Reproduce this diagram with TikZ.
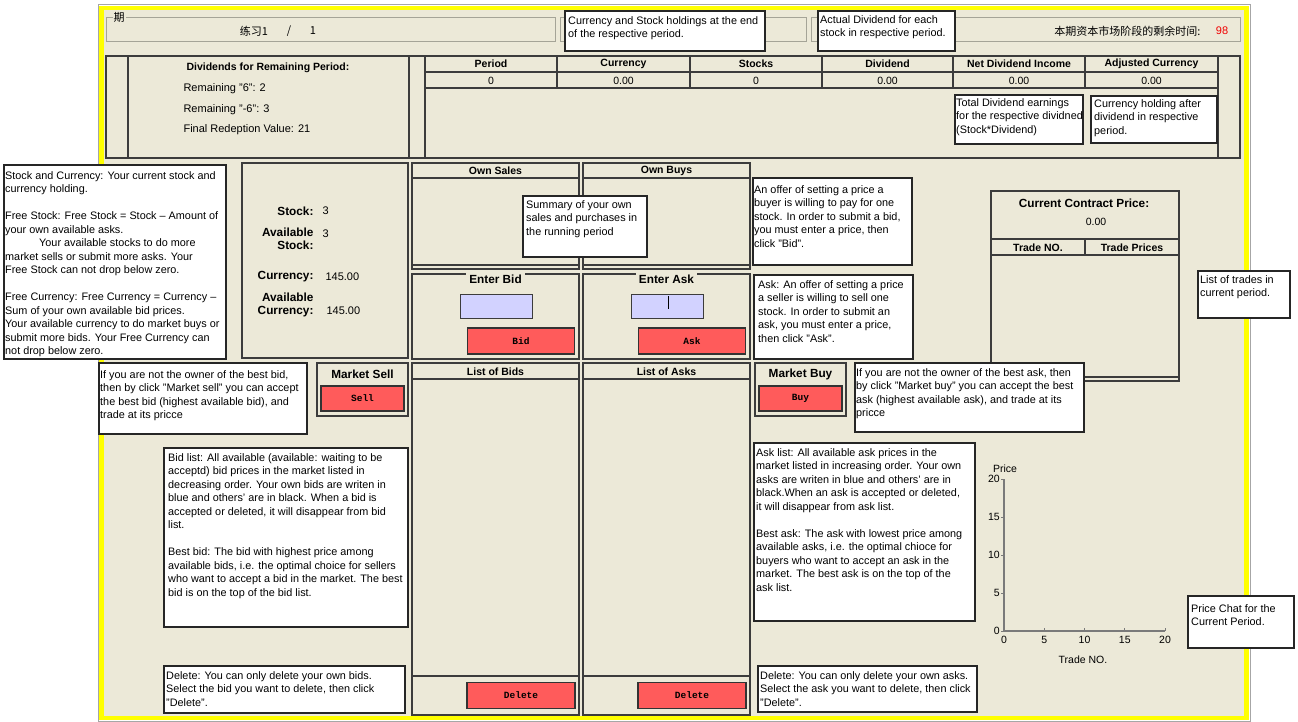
\documentclass[tikz,border=0pt]{standalone}
\usepackage{fontspec}
\setmainfont{Liberation Sans}
\setmonofont{Liberation Mono}
\newfontfamily\cjk{Noto Sans CJK SC}
\usepackage{xcolor}
\usepackage{tikz}
\usetikzlibrary{positioning}

\definecolor{winbg}{HTML}{ECE9D8}
\definecolor{edge}{HTML}{3C3C3C}
\definecolor{groove}{HTML}{A5A497}
\definecolor{btnred}{HTML}{FF5B5B}
\definecolor{fieldblue}{HTML}{D2D2FF}
\definecolor{frameyel}{HTML}{FFFF00}
\definecolor{timered}{HTML}{F00000}
\definecolor{axisgray}{HTML}{7A7A7A}

\begin{document}
\begin{tikzpicture}[x=1pt, y=-1pt,
  panel/.style={draw=edge, line width=1.2pt},
  groupbox/.style={draw=groove, line width=1pt},
  notebox/.style={draw=black!85, fill=white, line width=1.2pt},
  notetext/.style={anchor=north west, align=left, inner sep=0pt,
    font=\fontsize{10.85}{13.5}\selectfont},
  hdr/.style={font=\bfseries\fontsize{10.5}{12}\selectfont},
  biglbl/.style={font=\bfseries\fontsize{11.8}{13}\selectfont},
  txt/.style={font=\fontsize{11}{13}\selectfont},
  cjktxt/.style={font=\fontsize{11}{13}\cjk},
  btn/.style={draw=black!80, fill=btnred, line width=1.2pt, inner sep=0pt,
    font=\ttfamily\bfseries\fontsize{9.5}{10}\selectfont},
  field/.style={draw=edge, fill=fieldblue, line width=1pt}
]
  \useasboundingbox (0,0) rectangle (1298,721);
  \fill[white] (0,0) rectangle (1298,721);

  %% window frame
  \fill[winbg] (100,7) rectangle (1247,718);
  \draw[gray!70, line width=1pt] (98.5,4.5) rectangle (1250.5,721);
  \draw[frameyel, line width=4.5pt] (101.5,8.2) rectangle (1246.3,717.8);

  %% top group boxes
  \draw[groupbox] (106,17) rectangle (555,41);
  \node[cjktxt, fill=winbg, inner sep=1pt] (period) at (119,17) {期};
  \node[cjktxt] (round) at (254,31) {练习1};
  \node[cjktxt] (slash) at (289,31) {/};
  \node[cjktxt] (rounds) at (313,31) {1};
  \draw[groupbox] (560,17) rectangle (806,41);
  \draw[groupbox] (811,17) rectangle (1240,41);
  \node[cjktxt, anchor=east] (timelbl) at (1204,31) {本期资本市场阶段的剩余时间:};
  \node[txt, text=timered] (timeval) at (1222,31) {98};

  %% dividend table
  \draw[panel] (106,56) rectangle (1240,158);
  \foreach \x in {128,409,425,1218}
    \draw[panel] (\x,56) -- (\x,158);
  \draw[panel] (425,72) -- (1218,72);
  \draw[panel] (425,88) -- (1218,88);
  \foreach \x in {557,690,822,953,1085}
    \draw[panel] (\x,56) -- (\x,88);
  \foreach \cx/\head/\val [count=\i] in {491/Period/0, 623.5/Currency/0.00,
      756/Stocks/0, 887.5/Dividend/0.00, 1019/Net Dividend Income/0.00,
      1151.5/Adjusted Currency/0.00}{
    \node[hdr] (head\i) at (\cx,64) {\head};
    \node[txt, font=\fontsize{10.5}{12}\selectfont] (val\i) at (\cx,80.5) {\val};
  }
  \node[hdr, anchor=west] (divtitle) at (183,68) {Dividends for Remaining Period:};
  \node[txt, anchor=west] (remsix) at (180,89) {Remaining "6": 2};
  \node[txt, anchor=west] (remminus) at (180,110) {Remaining "-6": 3};
  \node[txt, anchor=west] (redeem) at (180,130) {Final Redeption Value: 21};

  %% stock and currency panel
  \draw[panel] (242,163) rectangle (408,358);
  \node[biglbl, anchor=east] (stocklbl) at (317,211) {Stock:};
  \node[txt, right=2pt of stocklbl] (stockval) {3};
  \node[biglbl, anchor=east, align=right] (freestocklbl) at (317,239) {Available\\Stock:};
  \node[txt, anchor=west] (freestockval) at (319,234) {3};
  \node[biglbl, anchor=east] (curlbl) at (317,277) {Currency:};
  \node[txt, right=5pt of curlbl] (curval) {145.00};
  \node[biglbl, anchor=east, align=right] (freecurlbl) at (317,304.5) {Available\\Currency:};
  \node[txt, anchor=west] (freecurval) at (323,311) {145.00};

  %% own sales / own buys
  \foreach \x/\name/\title in {412/sales/Own Sales, 583/buys/Own Buys}{
    \draw[panel] (\x,163) rectangle (\x+167,269);
    \draw[panel] (\x,178) -- (\x+167,178);
    \draw[panel] (\x,265) -- (\x+167,265);
    \node[hdr] (own\name) at (\x+83.5,171) {\title};
  }

  %% enter bid / enter ask
  \foreach \x/\name/\title/\lbl in {412/bid/Enter Bid/Bid, 583/ask/Enter Ask/Ask}{
    \draw[panel] (\x,274) rectangle (\x+167,359);
    \node[biglbl, fill=winbg, inner sep=3pt] (enter\name) at (\x+83.5,279) {\title};
    \draw[field] (\x+48,294) rectangle (\x+120,318);
    \node[btn, minimum width=107pt, minimum height=26pt] (\name btn) at (\x+109,341) {\lbl};
  }
  \draw[black, line width=1pt] (668,296) -- (668,309);

  %% current contract price
  \draw[panel] (991,191) rectangle (1179,381);
  \node[biglbl] (cpricelbl) at (1084,203) {Current Contract Price:};
  \node[txt, font=\fontsize{10.5}{12}\selectfont] (cprice) at (1096,222) {0.00};
  \draw[panel] (991,239) -- (1179,239);
  \draw[panel] (991,255) -- (1179,255);
  \draw[panel] (1085,239) -- (1085,255);
  \draw[panel] (991,377) -- (1179,377);
  \node[hdr] (tradeno) at (1038,247.5) {Trade NO.};
  \node[hdr] (tradeprices) at (1132,247.5) {Trade Prices};

  %% market sell / market buy
  \foreach \x/\name/\title/\lbl in {317/sell/Market Sell/Sell, 755/buy/Market Buy/Buy}{
    \draw[panel] (\x,363) rectangle (\x+91,416);
    \node[biglbl] (mkt\name) at (\x+45.5,374) {\title};
    \node[btn, minimum width=83pt, minimum height=25pt] (\name btn) at (\x+45.5,398.5) {\lbl};
  }

  %% list of bids / list of asks
  \foreach \x/\name/\title in {412/bids/List of Bids, 583/asks/List of Asks}{
    \draw[panel] (\x,363) rectangle (\x+167,715);
    \draw[panel] (\x,379) -- (\x+167,379);
    \draw[panel] (\x,676) -- (\x+167,676);
    \node[hdr] (list\name) at (\x+83.5,371.5) {\title};
    \node[btn, minimum width=108pt, minimum height=26pt] (del\name) at (\x+109,695.5) {Delete};
  }

  %% price chart
  \draw[axisgray, line width=1.8pt] (1004,479) -- (1004,631) -- (1165,631);
  \foreach \v [count=\i] in {0,5,10,15,20}{
    \draw[axisgray, line width=0.8pt] (1001,631-7.6*\v) -- (1004,631-7.6*\v);
    \draw[axisgray, line width=0.8pt] (1004+8.05*\v,631) -- (1004+8.05*\v,628);
    \node[txt, anchor=east, inner sep=1pt, font=\fontsize{10.5}{12}\selectfont] (ytick\i) at (1001,631-7.6*\v) {\v};
    \node[txt, font=\fontsize{10.5}{12}\selectfont] (xtick\i) at (1004+8.05*\v,640) {\v};
  }
  \node[txt, font=\fontsize{10.5}{12}\selectfont] (pricelbl) at (1005,469) {Price};
  \node[txt, font=\fontsize{10.5}{12}\selectfont] (tradenolbl) at (1083,660) {Trade NO.};

  %% annotations
  \draw[notebox] (565,11) rectangle (765,51);
  \node[notetext] (holdnote) at (568,16) {Currency and Stock holdings at the end\\of the respective period.};
  \draw[notebox] (818,11) rectangle (955,51);
  \node[notetext] (divnote) at (820,15) {Actual Dividend for each\\stock in respective period.};
  \draw[notebox] (955,95) rectangle (1083,144);
  \node[notetext] (totnote) at (956,98) {Total Dividend earnings\\for the respective dividned\\(Stock*Dividend)};
  \draw[notebox] (1091,96) rectangle (1217,143);
  \node[notetext] (adjnote) at (1094,99) {Currency holding after\\dividend in respective\\period.};
  \draw[notebox] (4,165) rectangle (226,359);
  \node[notetext] (stocknote) at (5,171) {Stock and Currency: Your current stock and\\currency holding.\\[13.5pt]
    Free Stock: Free Stock = Stock – Amount of\\your own available asks.\\
    \hspace*{34pt}Your available stocks to do more\\market sells or submit more asks. Your\\
    Free Stock can not drop below zero.\\[13.5pt]
    Free Currency: Free Currency = Currency –\\Sum of your own available bid prices.\\
    Your available currency to do market buys or\\submit more bids. Your Free Currency can\\
    not drop below zero.};
  \draw[notebox] (523,196) rectangle (647,257);
  \node[notetext] (sumnote) at (526,200) {Summary of your own\\sales and purchases in\\the running period};
  \draw[notebox] (753,178) rectangle (912,265);
  \node[notetext] (bidnote) at (754,185) {An offer of setting a price a\\buyer is willing to pay for one\\
    stock. In order to submit a bid,\\you must enter a price, then\\click "Bid".};
  \draw[notebox] (754,275) rectangle (913,359);
  \node[notetext] (asknote) at (758,280) {Ask: An offer of setting a price\\a seller is willing to sell one\\
    stock. In order to submit an\\ask, you must enter a price,\\then click "Ask".};
  \draw[notebox] (1198,271) rectangle (1290,318);
  \node[notetext] (tradesnote) at (1200,275) {List of trades in\\current period.};
  \draw[notebox] (99,363) rectangle (307,434);
  \node[notetext] (sellnote) at (100,370) {If you are not the owner of the best bid,\\then by click "Market sell" you can accept\\
    the best bid (highest available bid), and\\trade at its pricce};
  \draw[notebox] (855,363) rectangle (1084,432);
  \node[notetext] (buynote) at (856,368) {If you are not the owner of the best ask, then\\by click "Market buy" you can accept the best\\
    ask (highest available ask), and trade at its\\pricce};
  \draw[notebox] (164,448) rectangle (408,627);
  \node[notetext] (bidlistnote) at (168,453) {Bid list: All available (available: waiting to be\\
    acceptd) bid prices in the market listed in\\decreasing order. Your own bids are writen in\\
    blue and others' are in black. When a bid is\\accepted or deleted, it will disappear from bid\\
    list.\\[13.5pt]Best bid: The bid with highest price among\\available bids, i.e. the optimal choice for sellers\\
    who want to accept a bid in the market. The best\\bid is on the top of the bid list.};
  \draw[notebox] (754,443) rectangle (975,621);
  \node[notetext] (asklistnote) at (756,448) {Ask list: All available ask prices in the\\
    market listed in increasing order. Your own\\asks are writen in blue and others' are in\\
    black.When an ask is accepted or deleted,\\it will disappear from ask list.\\[13.5pt]
    Best ask: The ask with lowest price among\\available asks, i.e. the optimal chioce for\\
    buyers who want to accept an ask in the\\market. The best ask is on the top of the\\ask list.};
  \draw[notebox] (164,666) rectangle (405,713);
  \node[notetext] (biddelnote) at (166,671) {Delete: You can only delete your own bids.\\
    Select the bid you want to delete, then click\\"Delete".};
  \draw[notebox] (758,666) rectangle (977,712);
  \node[notetext] (askdelnote) at (760,671) {Delete: You can only delete your own asks.\\
    Select the ask you want to delete, then click\\"Delete".};
  \draw[notebox] (1188,596) rectangle (1294,648);
  \node[notetext] (chartnote) at (1191,604) {Price Chat for the\\Current Period.};
\end{tikzpicture}
\end{document}
